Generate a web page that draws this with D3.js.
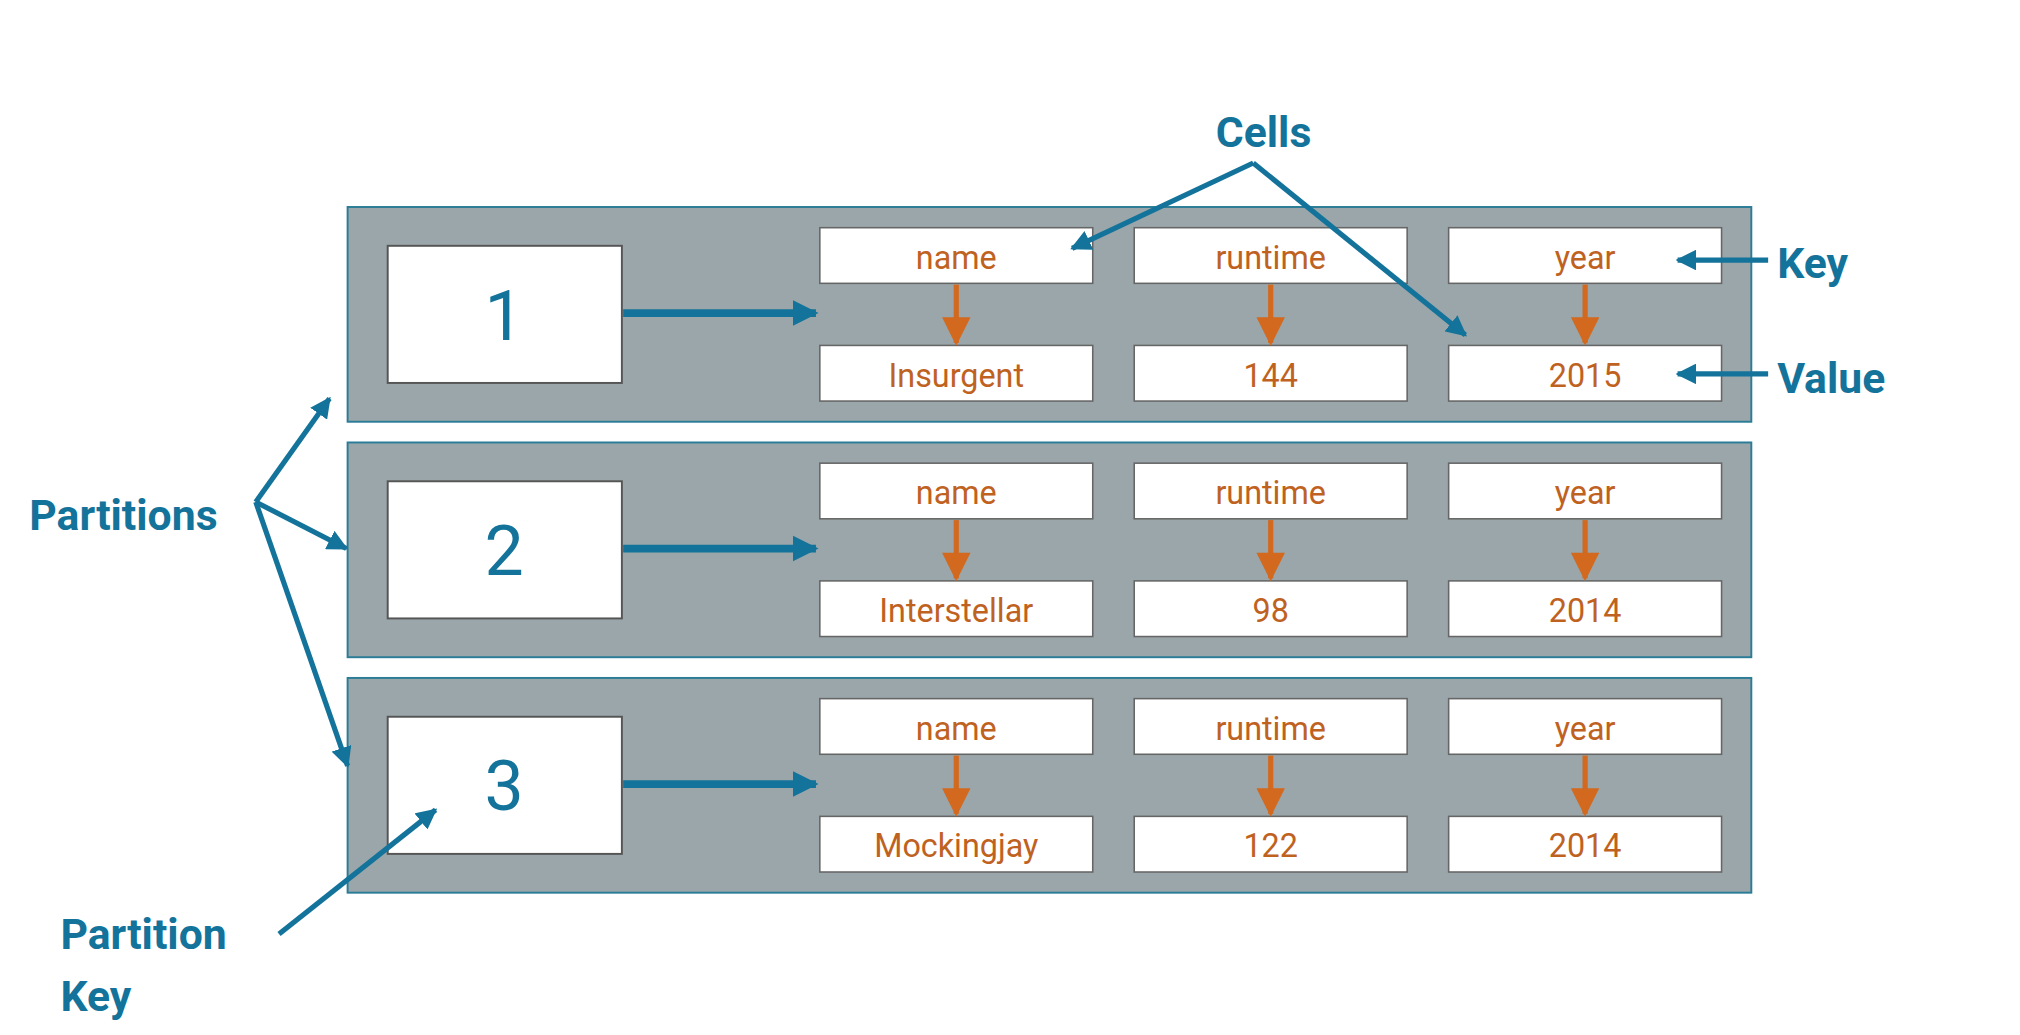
<!DOCTYPE html>
<html><head><meta charset="utf-8">
<script src="https://cdn.jsdelivr.net/npm/d3@7"></script>
<style>body{margin:0;background:#fff}</style></head>
<body><svg id="c" width="2020" height="1035" viewBox="0 0 1560 800"></svg>
<script>
const partitionKeys = ["1","2","3"];
const cellKeys = ["name","runtime","year"];
const cellValues = [["Insurgent","144","2015"],["Interstellar","98","2014"],["Mockingjay","122","2014"]];
const teal = "#13739a", orange = "#d2691e", orangeText = "#c0621f";
const svg = d3.select("#c");
const defs = svg.append("defs");
function marker(id, color, w, h){
  defs.append("marker").attr("id",id).attr("viewBox","0 0 10 10").attr("refX",9).attr("refY",5)
   .attr("markerWidth",w).attr("markerHeight",h).attr("orient","auto").attr("markerUnits","userSpaceOnUse")
   .append("path").attr("d","M0,0L10,5L0,10Z").attr("fill",color);
}
marker("ab", teal, 20, 30); marker("at", teal, 16, 16); marker("ao", orange, 26, 22);
const y = d3.scaleBand().domain(partitionKeys).range([160, 690]).paddingInner(0.088);
const x = d3.scaleBand().domain(cellKeys).range([633, 1330]).paddingInner(0.132);
const g = svg.selectAll("g.p").data(partitionKeys).join("g").attr("transform", d=>`translate(0,${y(d)})`);
g.append("rect").attr("x",268).attr("width",1085).attr("height",y.bandwidth()).attr("fill","#9aa6a9").attr("stroke","#2b7c96").attr("stroke-width",1.5);
g.append("rect").attr("x",299).attr("y",30).attr("width",181).attr("height",106).attr("fill","#fff").attr("stroke","#555").attr("stroke-width",1.5);
g.append("text").attr("x",389).attr("y",83).attr("dy","0.36em").attr("text-anchor","middle").attr("font-family","Roboto").attr("font-size",54).attr("fill",teal).text(d=>d);
g.append("line").attr("x1",481).attr("x2",630).attr("y1",82).attr("y2",82).attr("stroke",teal).attr("stroke-width",6).attr("marker-end","url(#ab)");
g.each(function(p,i){
  const gg = d3.select(this);
  cellKeys.forEach((k,j)=>{
    const cx = x(k), w = x.bandwidth();
    [[16,k],[107,cellValues[i][j]]].forEach(([yy,t])=>{
      gg.append("rect").attr("x",cx).attr("y",yy).attr("width",w).attr("height",43).attr("fill","#fff").attr("stroke","#666").attr("stroke-width",1.2);
      gg.append("text").attr("x",cx+w/2).attr("y",yy+23).attr("dy","0.35em").attr("text-anchor","middle").attr("font-family","Roboto").attr("font-size",25).attr("fill",orangeText).text(t);
    });
    gg.append("line").attr("x1",cx+w/2).attr("x2",cx+w/2).attr("y1",60).attr("y2",105).attr("stroke",orange).attr("stroke-width",4).attr("marker-end","url(#ao)");
  });
});
const lab = (t,xx,yy,anchor)=>svg.append("text").attr("x",xx).attr("y",yy).attr("dy","0.35em").attr("text-anchor",anchor||"start").attr("font-family","Roboto").attr("font-weight","bold").attr("font-size",33).attr("fill",teal).text(t);
lab("Cells",976,102,"middle"); lab("Key",1373,203); lab("Value",1373,292); lab("Partitions",22,398); lab("Partition",46,722); lab("Key",46,770);
const arr = (x1,y1,x2,y2)=>svg.append("line").attr("x1",x1).attr("y1",y1).attr("x2",x2).attr("y2",y2).attr("stroke",teal).attr("stroke-width",4).attr("marker-end","url(#at)");
arr(968,126,828,192); arr(968,126,1132,259);
arr(1366,201,1296,201); arr(1366,289,1296,289);
arr(197,388,254,308); arr(197,388,267,424); arr(197,388,268,592);
arr(215,722,336,626);
</script></body></html>
